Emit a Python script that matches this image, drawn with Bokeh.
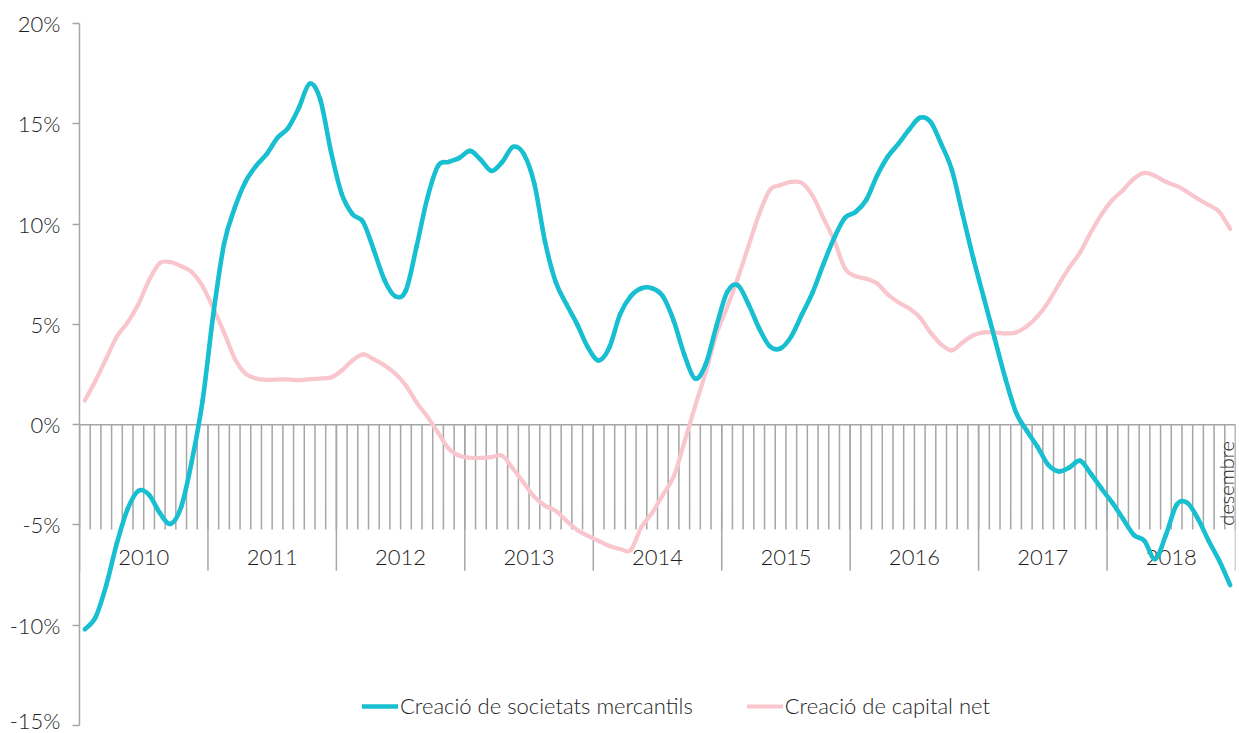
import numpy as np
from bokeh.plotting import figure
from bokeh.models import Range1d, FixedTicker, Legend, LegendItem
from bokeh.core.properties import value
from bokeh.embed import file_html
from bokeh.resources import INLINE

# ---------------- data ----------------
years = ["2010", "2011", "2012", "2013", "2014", "2015", "2016", "2017", "2018"]
months_per_year = 12
last_month_label = "desembre"

series_names = ["Creació de societats mercantils", "Creació de capital net"]

societats = [
    -10.2, -9.6, -8.0, -5.9, -4.2, -3.3, -3.5, -4.4, -4.95, -4.1, -1.8, 1.2,
    5.5, 9.0, 10.8, 12.1, 12.9, 13.5, 14.3, 14.8, 15.8, 17.0, 16.2, 13.6,
    11.5, 10.5, 10.1, 8.7, 7.2, 6.4, 6.7, 8.9, 11.3, 12.9, 13.1, 13.3,
    13.65, 13.2, 12.65, 13.1, 13.85, 13.5, 12.0, 9.1, 7.1, 6.0, 5.0, 3.85,
    3.2, 3.85, 5.5, 6.4, 6.8, 6.8, 6.4, 5.2, 3.5, 2.3, 3.0, 4.9,
    6.6, 6.95, 6.0, 4.8, 3.9, 3.8, 4.4, 5.5, 6.6, 8.0, 9.3, 10.3,
    10.6, 11.2, 12.4, 13.35, 14.0, 14.7, 15.3, 15.1, 14.0, 12.7, 10.5, 8.3,
    6.3, 4.3, 2.3, 0.6, -0.3, -1.1, -2.0, -2.33, -2.13, -1.8, -2.46, -3.2,
    -3.9, -4.7, -5.5, -5.8, -6.7, -5.5, -4.0, -3.9, -4.7, -5.8, -6.8, -8.0,
]

capital = [
    1.2, 2.2, 3.3, 4.4, 5.1, 6.0, 7.2, 8.05, 8.1, 7.9, 7.6, 6.9,
    5.8, 4.6, 3.3, 2.55, 2.3, 2.23, 2.25, 2.25, 2.22, 2.27, 2.3, 2.35,
    2.7, 3.2, 3.5, 3.25, 2.95, 2.55, 1.95, 1.1, 0.4, -0.4, -1.2, -1.55,
    -1.65, -1.66, -1.62, -1.55, -2.2, -2.9, -3.6, -4.05, -4.3, -4.8, -5.25, -5.55,
    -5.8, -6.05, -6.2, -6.25, -5.1, -4.4, -3.5, -2.6, -0.9, 0.9, 2.6, 4.5,
    5.85, 7.3, 8.9, 10.5, 11.7, 11.95, 12.1, 12.05, 11.4, 10.3, 9.2, 7.8,
    7.4, 7.27, 7.05, 6.5, 6.1, 5.8, 5.35, 4.6, 4.0, 3.7, 4.1, 4.45,
    4.6, 4.6, 4.55, 4.6, 4.9, 5.4, 6.1, 7.0, 7.85, 8.6, 9.6, 10.5,
    11.2, 11.7, 12.26, 12.55, 12.4, 12.1, 11.9, 11.6, 11.25, 10.95, 10.6, 9.76,
]

y_ticks = [-15, -10, -5, 0, 5, 10, 15, 20]
y_tick_labels = ["-15%", "-10%", "-5%", "0%", "5%", "10%", "15%", "20%"]

# ---------------- style ----------------
FONT = "Lato Light"
FSIZE = "22px"
TEXT_COLOR = "#1e1e1e"
AXIS_COLOR = "#a6a6a6"
TEAL = "#17bfd0"
PINK = "#f8c6cc"
MONTH_TICK_LEN = 5.23   # in % units below the zero line
YEAR_TICK_LEN = 7.28
YEAR_LABEL_Y = -6.63
LAST_LABEL_Y = -2.93

n = len(societats)
xm = np.arange(n) + 0.5


def bezier_parts(xs, ys):
    xs = np.asarray(xs, float)
    ys = np.asarray(ys, float)
    xp = np.concatenate([[xs[0]], xs, [xs[-1]]])
    yp = np.concatenate([[ys[0]], ys, [ys[-1]]])
    return dict(
        x0=xs[:-1], y0=ys[:-1], x1=xs[1:], y1=ys[1:],
        cx0=xs[:-1] + (xs[1:] - xp[:n - 1]) / 6.0,
        cy0=ys[:-1] + (ys[1:] - yp[:n - 1]) / 6.0,
        cx1=xs[1:] - (xp[3:] - xs[:-1]) / 6.0,
        cy1=ys[1:] - (yp[3:] - ys[:-1]) / 6.0,
    )


p = figure(
    width=1239, height=733,
    x_range=Range1d(0, n), y_range=Range1d(y_ticks[0], y_ticks[-1]),
    x_axis_location=None, y_axis_location="left",
    output_backend="svg", toolbar_location=None,
    min_border_left=79, min_border_right=4, min_border_top=23, min_border_bottom=8,
    background_fill_color="white", border_fill_color="white",
)
p.outline_line_color = None
p.grid.visible = False

# y axis
ax = p.yaxis[0]
ax.ticker = FixedTicker(ticks=y_ticks)
ax.major_label_overrides = {t: l for t, l in zip(y_ticks, y_tick_labels)}
ax.axis_line_color = AXIS_COLOR
ax.axis_line_width = 1.5
ax.major_tick_line_color = AXIS_COLOR
ax.major_tick_line_width = 1.5
ax.major_tick_out = 7
ax.major_tick_in = 0
ax.minor_tick_line_color = None
ax.major_label_text_font = FONT
ax.major_label_text_font_size = FSIZE
ax.major_label_text_color = TEXT_COLOR
ax.major_label_standoff = 12

# category axis drawn at zero
bounds = np.arange(n + 1)
year_bounds = bounds[::months_per_year]
p.segment(x0=bounds, y0=np.zeros(len(bounds)), x1=bounds, y1=np.full(len(bounds), -MONTH_TICK_LEN),
          line_color=AXIS_COLOR, line_width=1.5)
p.segment(x0=year_bounds, y0=np.zeros(len(year_bounds)), x1=year_bounds,
          y1=np.full(len(year_bounds), -YEAR_TICK_LEN), line_color=AXIS_COLOR, line_width=1.5)
p.segment(x0=[0], y0=[0], x1=[n], y1=[0], line_color=AXIS_COLOR, line_width=1.5)

year_centers = year_bounds[:-1] + months_per_year / 2
p.text(x=year_centers, y=np.full(len(years), YEAR_LABEL_Y), text=years,
       text_font=value(FONT), text_font_size=FSIZE, text_color=TEXT_COLOR,
       text_align="center", text_baseline="middle")
p.text(x=[xm[-1] - 0.35], y=[LAST_LABEL_Y], text=[last_month_label], angle=np.pi / 2,
       text_font=value(FONT), text_font_size="20px", text_color=TEXT_COLOR,
       text_align="center", text_baseline="middle")

# series
r_cap = p.bezier(**bezier_parts(xm, capital), line_color=PINK, line_width=4.2, line_cap="round")
r_soc = p.bezier(**bezier_parts(xm, societats), line_color=TEAL, line_width=4.6, line_cap="round")

legend = Legend(
    items=[LegendItem(label=series_names[0], renderers=[r_soc]),
           LegendItem(label=series_names[1], renderers=[r_cap])],
    orientation="horizontal", location=(283, 6),
    glyph_width=36, glyph_height=22, label_height=22, label_standoff=2, spacing=54,
    padding=0, margin=0, border_line_color=None, background_fill_alpha=0,
    label_text_font=FONT, label_text_font_size=FSIZE, label_text_color=TEXT_COLOR,
)
p.add_layout(legend)

open("out.html", "w").write(file_html(p, INLINE))
